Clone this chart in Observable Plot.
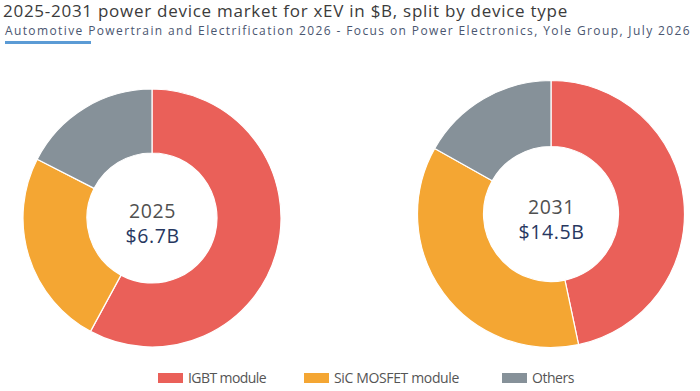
<!DOCTYPE html>
<html>
<head>
<meta charset="utf-8">
<script src="https://cdn.jsdelivr.net/npm/d3@7"></script>
<script src="https://cdn.jsdelivr.net/npm/@observablehq/plot@0.6"></script>
<style>
  html, body { margin: 0; padding: 0; background: #fff; }
  #page { position: relative; width: 700px; height: 391px; overflow: hidden; font-family: "Open Sans", sans-serif; }
  .abs { position: absolute; white-space: nowrap; line-height: 1; }
  #title { left: 3px; top: 2px; font-size: 17px; color: #3b3b3b; }
  #subtitle { left: 5px; top: 24.6px; font-size: 12px; color: #4a5670; }
  #bar { left: 5px; top: 40.5px; width: 86px; height: 3.5px; background: #5b9bd5; }
  #chart { position: absolute; left: 0; top: 48px; }
  .sw { position: absolute; top: 373px; width: 25px; height: 10px; }
  .lab { position: absolute; top: 371px; font-size: 14px; color: #555; line-height: 1; white-space: nowrap; }
</style>
</head>
<body>
<div id="page">
  <div id="title" class="abs">2025-2031 power device market for xEV in $B, split by device type</div>
  <div id="subtitle" class="abs">Automotive Powertrain and Electrification 2026 - Focus on Power Electronics, Yole Group, July 2026</div>
  <div id="bar" class="abs"></div>
  <div id="chart"></div>
</div>
<script>
// ---- data ----
const categories = ["IGBT module", "SiC MOSFET module", "Others"];
const years = ["2025", "2031"];
const totalLabels = ["$6.7B", "$14.5B"];
const igbt = [3.88, 6.77];     // $B
const sic = [1.65, 5.29];      // $B
const others = [1.17, 2.44];   // $B
const colors = ["#EA6059", "#F4A633", "#869199"];

// ---- layout ----
const centersX = [152, 551];
const centersY = [170.5, 166];
const radii = {"2025": [65, 129], "2031": [67.5, 133.5]};
const legendX = [158, 304, 502];
const legendWidths = [78, 125, 42];

const rows = years.flatMap((year, i) => [
  {year, category: categories[0], value: igbt[i]},
  {year, category: categories[1], value: sic[i]},
  {year, category: categories[2], value: others[i]}
]);
const centers = years.map((year, i) => ({year, total: totalLabels[i]}));

function donut(data, options) {
  return Plot.dot(data, {
    ...options,
    render(index, scales, values) {
      const g = d3.create("svg:g");
      const byYear = d3.group(index, i => data[i].year);
      for (const [year, idx] of byYear) {
        const cx = values.x[idx[0]], cy = values.y[idx[0]];
        const [ri, ro] = radii[year];
        const arcs = d3.pie().sort(null).value(i => data[i].value)(idx);
        const arc = d3.arc().innerRadius(ri).outerRadius(ro);
        g.append("g")
          .attr("transform", `translate(${cx},${cy})`)
          .selectAll("path").data(arcs).join("path")
          .attr("d", arc)
          .attr("fill", d => values.fill[d.data])
          .attr("stroke", "white")
          .attr("stroke-width", 1.2)
          .attr("stroke-linejoin", "round");
      }
      return g.node();
    }
  });
}

const plot = Plot.plot({
  width: 700,
  height: 310,
  margin: 0,
  style: {fontFamily: "'Open Sans', sans-serif", background: "transparent", letterSpacing: "0.6px"},
  x: {type: "point", domain: years, range: centersX, padding: 0, axis: null},
  y: {type: "point", domain: years, range: centersY, padding: 0, axis: null},
  color: {domain: categories, range: colors},
  marks: [
    donut(rows, {x: "year", y: "year", fill: "category"}),
    Plot.text(centers, {x: "year", y: "year", text: "year", lineAnchor: "bottom", dy: -1, fontSize: 19.5, fill: "#505050"}),
    Plot.text(centers, {x: "year", y: "year", text: "total", lineAnchor: "bottom", dy: 24, fontSize: 19.5, fill: "#27375f"})
  ]
});
document.getElementById("chart").appendChild(plot);

// fit text width to reference by letter spacing
function fitSpacing(el, target) {
  const w = el.getBoundingClientRect().width;
  const n = el.textContent.length;
  el.style.letterSpacing = ((target - w) / n) + "px";
}

// legend
const page = document.getElementById("page");
categories.forEach((c, i) => {
  const sw = document.createElement("div");
  sw.className = "sw";
  sw.style.left = legendX[i] + "px";
  sw.style.background = plot.scale("color").apply(c);
  page.appendChild(sw);
  const lab = document.createElement("div");
  lab.className = "lab";
  lab.style.left = (legendX[i] + 30) + "px";
  lab.textContent = c;
  page.appendChild(lab);
  fitSpacing(lab, legendWidths[i]);
});

fitSpacing(document.getElementById("title"), 565);
fitSpacing(document.getElementById("subtitle"), 686);
</script>
</body>
</html>
